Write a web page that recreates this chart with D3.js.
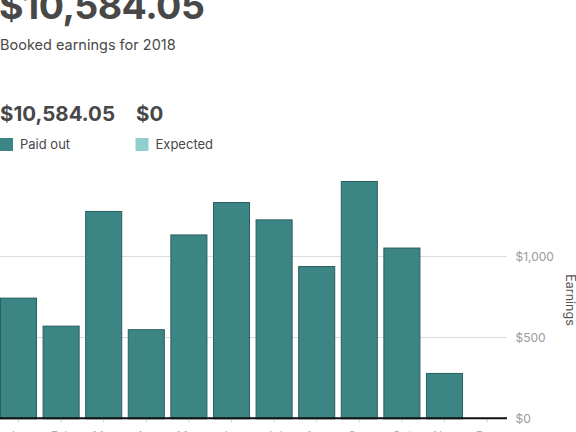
<!DOCTYPE html>
<html>
<head>
<meta charset="utf-8">
<script src="https://cdn.jsdelivr.net/npm/d3@7"></script>
<style>
  html, body { margin: 0; padding: 0; background: #fff; overflow: hidden; }
  svg { display: block; }
</style>
</head>
<body>
<svg id="chart" width="576" height="432"></svg>
<script>
// ---- data ----
const months = ["Jan","Feb","Mar","Apr","May","Jun","Jul","Aug","Sep","Oct","Nov","Dec"];
const paidOut = [745, 572, 1280, 550, 1135, 1335, 1228, 940, 1465, 1054, 280, 0];
const expected = [0, 0, 0, 0, 0, 0, 0, 0, 0, 0, 0, 0];
const yTicks = [0, 500, 1000];
const totalLabel = "$10,584.05";
const subtitle = "Booked earnings for 2018";
const paidLabel = "$10,584.05";
const expectedLabel = "$0";
const legendNames = ["Paid out", "Expected"];
const axisTitle = "Earnings";

const FONT = "Inter, 'Open Sans', sans-serif";
const dark = "#484848";
const teal = "#3b8585";
const tealStroke = "#2a5e5e";
const lightTeal = "#8fd0cc";

const svg = d3.select("#chart");

// header texts
svg.append("text").attr("x", -1).attr("y", 19)
  .attr("font-family", FONT).attr("font-weight", 700).attr("font-size", 37.5)
  .attr("fill", dark).attr("letter-spacing", -0.5).text(totalLabel);
svg.append("text").attr("x", 0).attr("y", 50)
  .attr("font-family", FONT).attr("font-size", 14.5)
  .attr("fill", dark).text(subtitle);

svg.append("text").attr("x", 0).attr("y", 120.5)
  .attr("font-family", FONT).attr("font-weight", 700).attr("font-size", 20.5)
  .attr("fill", dark).text(paidLabel);
svg.append("text").attr("x", 136).attr("y", 120.5)
  .attr("font-family", FONT).attr("font-weight", 700).attr("font-size", 20.5)
  .attr("fill", dark).text(expectedLabel);

const legendX = [0, 135.5];
const legendCol = [teal, lightTeal];
legendNames.forEach((n, i) => {
  svg.append("rect").attr("x", legendX[i]).attr("y", 138).attr("width", 13).attr("height", 13)
    .attr("fill", legendCol[i]);
  svg.append("text").attr("x", legendX[i] + 20).attr("y", 149)
    .attr("font-family", FONT).attr("font-size", 13).attr("fill", dark).text(n);
});

// scales
const x = d3.scaleBand().domain(months).range([-2.8, 508.4]).paddingInner(0.13).paddingOuter(0.065);
const y = d3.scaleLinear().domain([0, 1000]).range([418.3, 256.3]);
const axisEnd = 507;

// gridlines
svg.append("g").selectAll("line").data(yTicks.filter(d => d > 0)).join("line")
  .attr("x1", 0).attr("x2", axisEnd)
  .attr("y1", d => Math.round(y(d)) + 0.5).attr("y2", d => Math.round(y(d)) + 0.5)
  .attr("stroke", "#dcdcdc").attr("stroke-width", 1);

// bars
svg.append("g").selectAll("rect").data(months.map((m, i) => ({m, v: paidOut[i]})).filter(d => d.v > 0))
  .join("rect")
  .attr("x", d => x(d.m) + 0.5).attr("width", x.bandwidth() - 1)
  .attr("y", d => y(d.v) + 0.5).attr("height", d => y(0) - y(d.v))
  .attr("fill", teal).attr("stroke", tealStroke).attr("stroke-width", 1);

// expected bars (all zero)
svg.append("g").selectAll("rect").data(months.map((m, i) => ({m, v: expected[i]})).filter(d => d.v > 0))
  .join("rect")
  .attr("x", d => x(d.m)).attr("width", x.bandwidth())
  .attr("y", d => y(d.v)).attr("height", d => y(0) - y(d.v))
  .attr("fill", lightTeal);

// x axis
const xAxis = d3.axisBottom(x).tickSize(4).tickPadding(9);
const gx = svg.append("g").attr("transform", `translate(0,${y(0)})`).call(xAxis);
gx.select(".domain").remove();
gx.selectAll(".tick line").attr("stroke", "#cfcfcf");
gx.selectAll(".tick text").attr("font-family", FONT).attr("font-size", 12).attr("fill", "#b0b0b0");
svg.append("line").attr("x1", 0).attr("x2", axisEnd).attr("y1", y(0)).attr("y2", y(0))
  .attr("stroke", "#111").attr("stroke-width", 2);

// y axis (right)
const yAxis = d3.axisRight(y).tickValues(yTicks).tickSize(0).tickPadding(0)
  .tickFormat(d => "$" + d3.format(",")(d));
const gy = svg.append("g").attr("transform", `translate(515.5,0)`).call(yAxis);
gy.select(".domain").remove();
gy.selectAll(".tick text").attr("font-family", FONT).attr("font-size", 12).attr("fill", "#9a9a9a");

// axis title
svg.append("text").attr("transform", "translate(566,300) rotate(90)")
  .attr("text-anchor", "middle").attr("font-family", FONT).attr("font-size", 12.5)
  .attr("fill", "#555").text(axisTitle);
</script>
</body>
</html>
